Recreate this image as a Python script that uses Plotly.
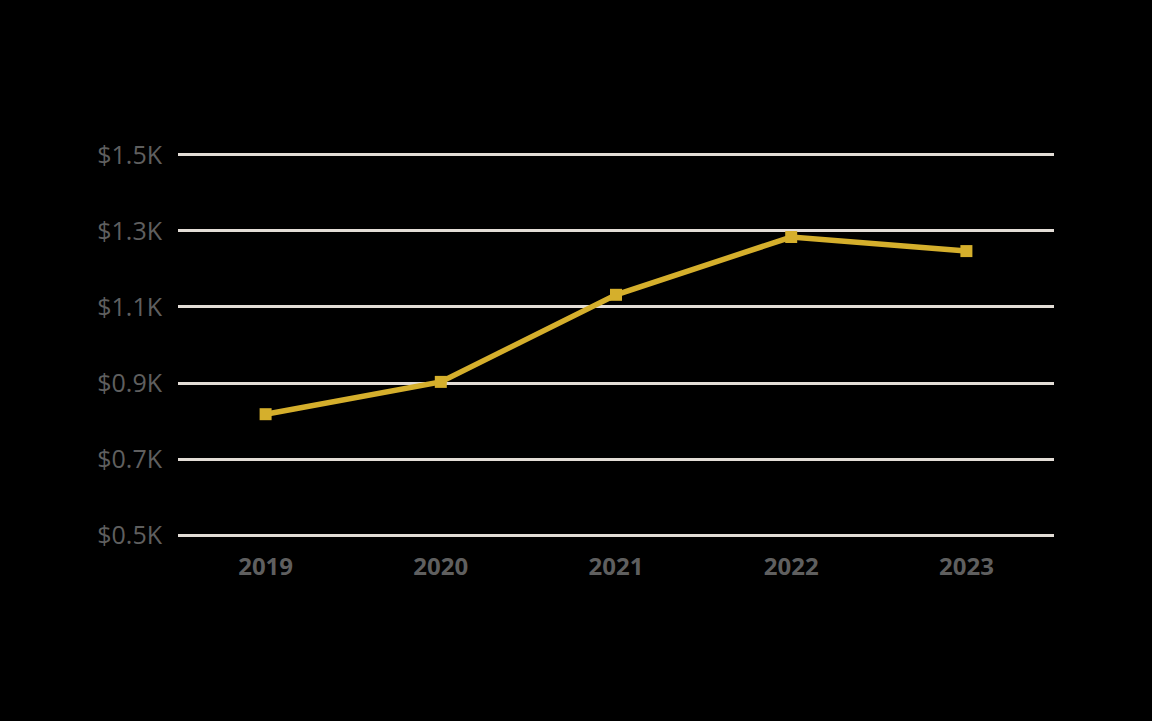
import plotly.graph_objects as go

years = ["2019", "2020", "2021", "2022", "2023"]
values = [0.818, 0.903, 1.132, 1.284, 1.247]
y_ticks = [0.5, 0.7, 0.9, 1.1, 1.3, 1.5]
y_tick_labels = ["$0.5K", "$0.7K", "$0.9K", "$1.1K", "$1.3K", "$1.5K"]

FONT = "'Open Sans', Lato, 'Noto Sans', sans-serif"

fig = go.Figure()
fig.add_trace(go.Scatter(
    x=years, y=values, mode="lines+markers",
    line=dict(color="#D5AF2C", width=5.5),
    marker=dict(symbol="square", size=12, color="#D5AF2C"),
    cliponaxis=False,
))

fig.update_layout(
    width=1152, height=721,
    paper_bgcolor="#000000", plot_bgcolor="#000000",
    margin=dict(l=178, r=98, t=153, b=184),
    showlegend=False,
    font=dict(family=FONT),
)
fig.update_xaxes(
    type="category", range=[-0.5, 4.5],
    showgrid=False, showline=False, zeroline=False,
    ticks="outside", ticklen=8, tickcolor="rgba(0,0,0,0)",
    tickfont=dict(size=24, color="#5f5f5f", family=FONT, weight="bold"),
)
fig.update_yaxes(
    range=[0.495, 1.505], tickvals=y_ticks, ticktext=y_tick_labels,
    showgrid=True, gridcolor="#e3ddd6", gridwidth=2.5,
    zeroline=False, showline=False,
    ticks="outside", ticklen=10, tickcolor="rgba(0,0,0,0)",
    tickfont=dict(size=25, color="#5f5f5f", family=FONT),
)

fig.write_html(
    "out.html",
    config={"displayModeBar": False},
    post_script="document.body.style.margin='0';document.body.style.background='#000';",
)
